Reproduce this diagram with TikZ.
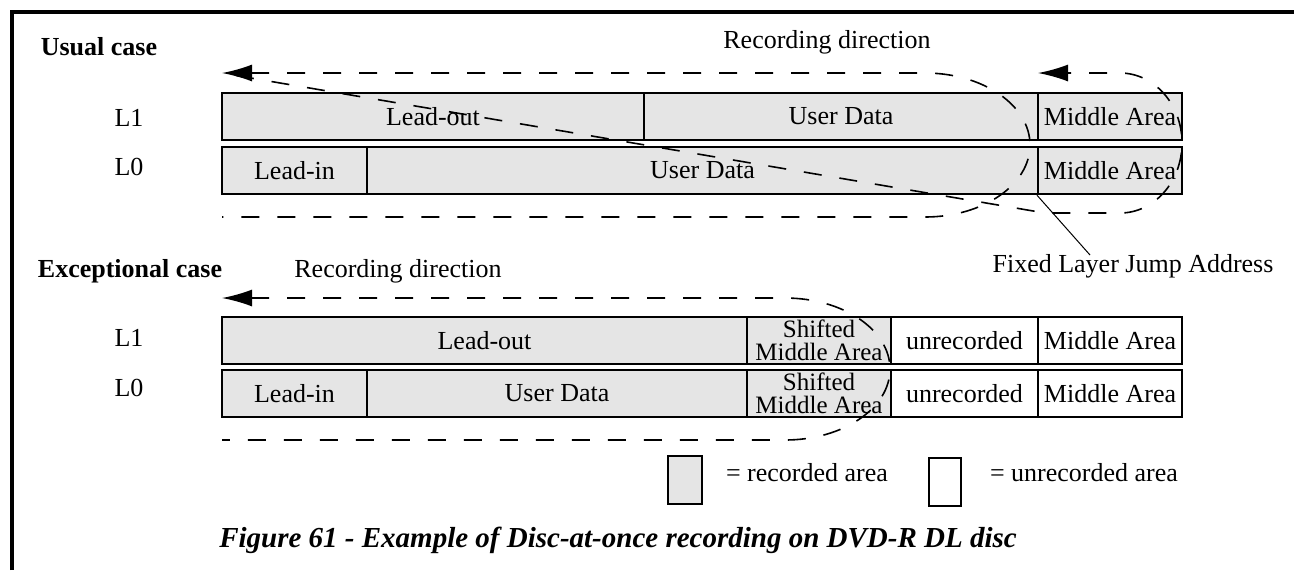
\documentclass[tikz,border=0pt]{standalone}
\usepackage{fontspec}
\setmainfont{Liberation Serif}
\usetikzlibrary{arrows.meta}
\begin{document}
\begin{tikzpicture}[x=.5pt,y=-.5pt,font=\fontsize{13}{15}\selectfont,
 cell/.style={draw,line width=1.1pt,minimum height=23.5pt,inner sep=0pt},
 rec/.style={cell,fill=black!10},unrec/.style={cell,fill=white},
 rdash/.style={line width=.8pt,dash pattern=on 9pt off 9pt},
 tip/.style={{Latex[length=15pt,width=8.5pt]}-},
 shifted/.style={rec,minimum width=72pt,align=center,font=\fontsize{12.5}{11.5}\selectfont}]
\useasboundingbox (0,0) rectangle (1294,570);
\draw[line width=1.6pt] (12,570) -- (12,12) -- (1294,12);
% usual case
\node[font=\fontsize{13}{15}\selectfont\bfseries] (usual) at (99,47) {Usual case};
\node (dir1) at (827,42) {Recording direction};
\node (l1a) at (129,118) {L1}; \node (l0a) at (129,167) {L0};
\node[rec,minimum width=211pt] (ulo) at (433,116.5) {Lead-out};
\node[rec,minimum width=197pt] (uud1) at (841,116.5) {User Data};
\node[rec,minimum width=72pt] (uma1) at (1110,116.5) {Middle Area};
\node[rec,minimum width=72.5pt] (uli) at (294.5,170.5) {Lead-in};
\node[rec,minimum width=335.5pt] (uud0) at (702.5,170.5) {User Data};
\node[rec,minimum width=72pt] (uma0) at (1110,170.5) {Middle Area};
\draw[rdash,tip] (222,73) -- (925,73) arc[start angle=90,end angle=-90,x radius=52.5pt,y radius=36pt] -- (222,217);
\draw[rdash,-{Latex[length=15pt,width=8.5pt]}] (236,75.5) -- (1045,213) -- (1120,213)
 arc[start angle=-90,end angle=90,x radius=31pt,y radius=35pt] -- (1038,73);
\node (flja) at (1133,266) {Fixed Layer Jump Address};
\coordinate (fljaend) at (1090,255);
\draw[line width=.5pt] (uma0.south west) -- (fljaend);
% exceptional case
\node[font=\fontsize{13}{15}\selectfont\bfseries] (except) at (130,271) {Exceptional case};
\node (dir2) at (398,271) {Recording direction};
\node (l1b) at (129,338) {L1}; \node (l0b) at (129,388) {L0};
\node[rec,minimum width=262.5pt] (elo) at (484.5,340.5) {Lead-out};
\node[shifted] (esh1) at (819,340.5) {Shifted\\Middle Area};
\node[unrec,minimum width=73.5pt] (eun1) at (964.5,340.5) {unrecorded};
\node[unrec,minimum width=72pt] (ema1) at (1110,340.5) {Middle Area};
\node[rec,minimum width=72.5pt] (eli) at (294.5,393.5) {Lead-in};
\node[rec,minimum width=190pt] (eud0) at (557,393.5) {User Data};
\node[shifted] (esh0) at (819,393.5) {Shifted\\Middle Area};
\node[unrec,minimum width=73.5pt] (eun0) at (964.5,393.5) {unrecorded};
\node[unrec,minimum width=72pt] (ema0) at (1110,393.5) {Middle Area};
\draw[rdash,tip] (222,298) -- (785,298) arc[start angle=90,end angle=-90,x radius=52.5pt,y radius=35.5pt] -- (222,440);
% legend
\node[rec,minimum width=17pt,minimum height=24pt] (keyrec) at (685,480) {};
\node (keyrect) at (807,473) {= recorded area};
\node[unrec,minimum width=16pt,minimum height=24pt] (keyun) at (945,482) {};
\node (keyunt) at (1084,473) {= unrecorded area};
\node[font=\fontsize{14.5}{17}\selectfont\bfseries\itshape] (caption) at (618,540)
 {Figure 61 - Example of Disc-at-once recording on DVD-R DL disc};
\end{tikzpicture}
\end{document}
